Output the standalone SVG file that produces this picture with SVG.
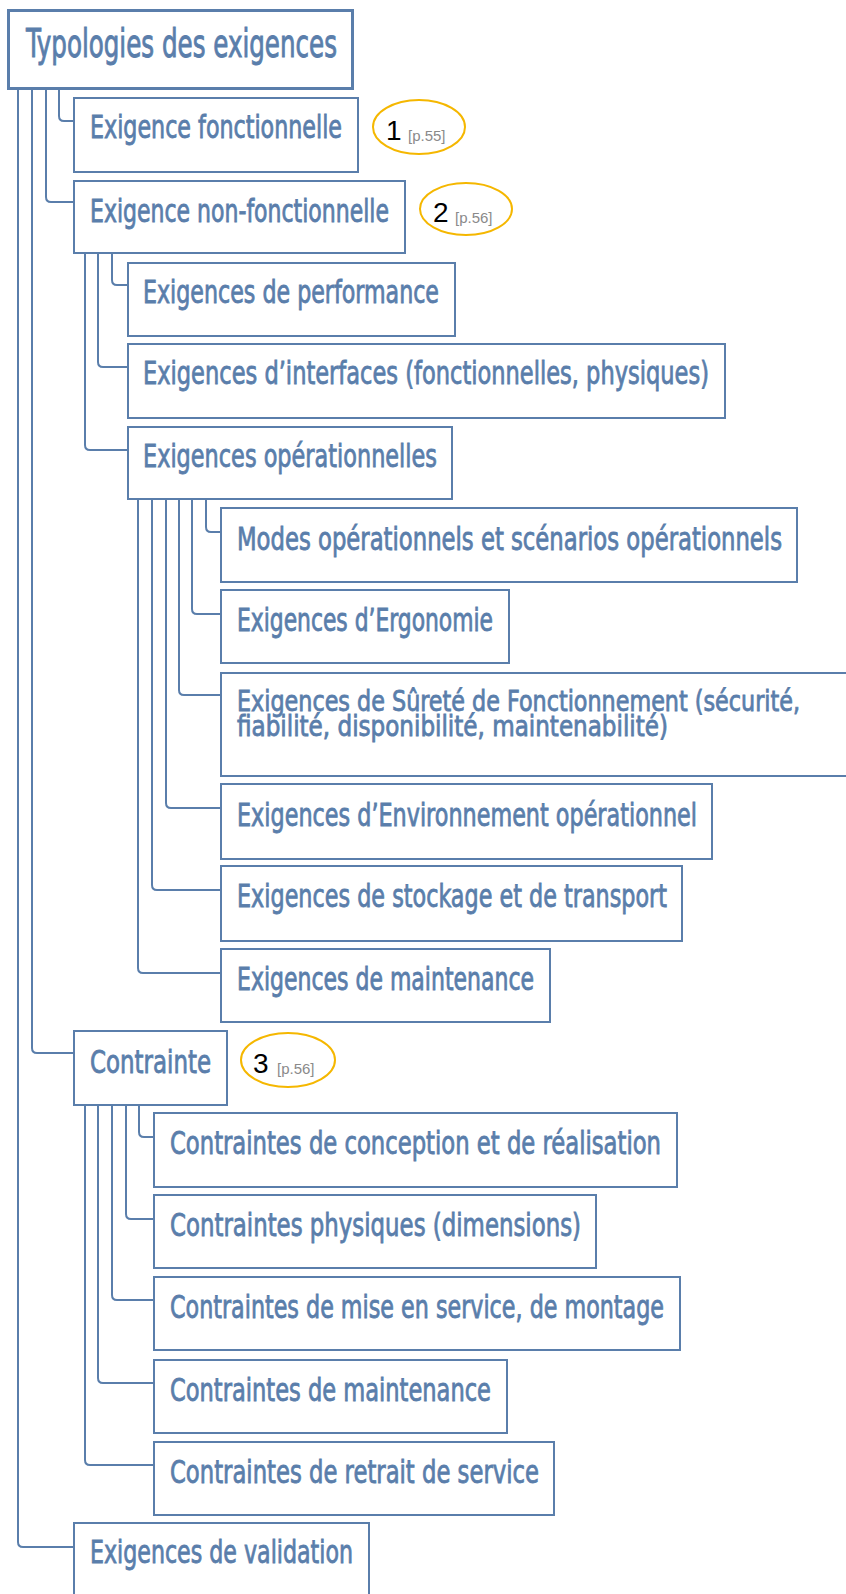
<svg xmlns="http://www.w3.org/2000/svg" width="846" height="1594" viewBox="0 0 846 1594">
  <style>
    .box { fill: #ffffff; stroke: #5a7eab; stroke-width: 2; }
    .root { stroke-width: 3; }
    .lbl { fill: #5a7eab; stroke: #5a7eab; stroke-width: 0.8; font-family: "Liberation Sans Narrow", "DejaVu Sans Condensed", "Liberation Sans", sans-serif; font-size: 32px; }
    .title { font-size: 39px; stroke-width: 0.9; }
    .tight { font-size: 29px; }
    .link { fill: none; stroke: #5a7eab; stroke-width: 2; }
    .ref { fill: none; stroke: #f5b700; stroke-width: 2; }
    .num { fill: #000000; font-family: "Liberation Sans", Arial, sans-serif; font-size: 28px; }
    .page { fill: #8a8a8a; font-family: "Liberation Sans", Arial, sans-serif; font-size: 15px; }
  </style>

  <!-- tree connectors: vertical trunk from parent bottom, rounded elbow into child's left edge -->
  <g id="connectors" class="link">
    <!-- root children -->
    <path d="M59,89 V116 Q59,121 64,121 H74"/>
    <path d="M46,89 V197 Q46,202 51,202 H74"/>
    <path d="M32,89 V1048 Q32,1053 37,1053 H74"/>
    <path d="M18,89 V1542 Q18,1547 23,1547 H74"/>
    <!-- non-fonctionnelle children -->
    <path d="M112,253 V280 Q112,285 117,285 H128"/>
    <path d="M98,253 V362 Q98,367 103,367 H128"/>
    <path d="M85,253 V445 Q85,450 90,450 H128"/>
    <!-- opérationnelles children -->
    <path d="M206,499 V527 Q206,532 211,532 H221"/>
    <path d="M192,499 V609 Q192,614 197,614 H221"/>
    <path d="M179,499 V690 Q179,695 184,695 H221"/>
    <path d="M166,499 V803 Q166,808 171,808 H221"/>
    <path d="M152,499 V885 Q152,890 157,890 H221"/>
    <path d="M138,499 V968 Q138,973 143,973 H221"/>
    <!-- contrainte children -->
    <path d="M139,1105 V1132 Q139,1137 144,1137 H154"/>
    <path d="M126,1105 V1214 Q126,1219 131,1219 H154"/>
    <path d="M112,1105 V1295 Q112,1300 117,1300 H154"/>
    <path d="M98,1105 V1378 Q98,1383 103,1383 H154"/>
    <path d="M85,1105 V1460 Q85,1465 90,1465 H154"/>
  </g>

  <g id="root">
    <rect class="box root" x="8.5" y="10.5" width="344" height="78"/>
    <text class="lbl title" x="26" y="57" textLength="311" lengthAdjust="spacingAndGlyphs">Typologies des exigences</text>
  </g>

  <g id="fonctionnelle">
    <rect class="box" x="74" y="98" width="284" height="74"/>
    <text class="lbl" x="90" y="138" textLength="252" lengthAdjust="spacingAndGlyphs">Exigence fonctionnelle</text>
  </g>
  <g id="ref1">
    <ellipse class="ref" cx="419" cy="127" rx="46" ry="27"/>
    <text class="num" x="386" y="140">1</text>
    <text class="page" x="408" y="141">[p.55]</text>
  </g>

  <g id="non-fonctionnelle">
    <rect class="box" x="74" y="181" width="331" height="72"/>
    <text class="lbl" x="90" y="222" textLength="299" lengthAdjust="spacingAndGlyphs">Exigence non-fonctionnelle</text>
  </g>
  <g id="ref2">
    <ellipse class="ref" cx="466" cy="209" rx="46" ry="26"/>
    <text class="num" x="433" y="222">2</text>
    <text class="page" x="455" y="223">[p.56]</text>
  </g>

  <g id="performance">
    <rect class="box" x="128" y="263" width="327" height="73"/>
    <text class="lbl" x="143" y="303" textLength="296" lengthAdjust="spacingAndGlyphs">Exigences de performance</text>
  </g>
  <g id="interfaces">
    <rect class="box" x="128" y="344" width="597" height="74"/>
    <text class="lbl" x="143" y="384" textLength="566" lengthAdjust="spacingAndGlyphs">Exigences d’interfaces (fonctionnelles, physiques)</text>
  </g>
  <g id="operationnelles">
    <rect class="box" x="128" y="427" width="324" height="72"/>
    <text class="lbl" x="143" y="467" textLength="294" lengthAdjust="spacingAndGlyphs">Exigences opérationnelles</text>
  </g>

  <g id="modes">
    <rect class="box" x="221" y="508" width="576" height="74"/>
    <text class="lbl" x="237" y="550" textLength="545" lengthAdjust="spacingAndGlyphs">Modes opérationnels et scénarios opérationnels</text>
  </g>
  <g id="ergonomie">
    <rect class="box" x="221" y="590" width="288" height="73"/>
    <text class="lbl" x="237" y="631" textLength="256" lengthAdjust="spacingAndGlyphs">Exigences d’Ergonomie</text>
  </g>
  <g id="surete">
    <rect class="box" x="221" y="673" width="640" height="103"/>
    <text class="lbl tight" x="237" y="711" textLength="563" lengthAdjust="spacingAndGlyphs">Exigences de Sûreté de Fonctionnement (sécurité,</text>
    <text class="lbl tight" x="237" y="736" textLength="431" lengthAdjust="spacingAndGlyphs">fiabilité, disponibilité, maintenabilité)</text>
  </g>
  <g id="environnement">
    <rect class="box" x="221" y="784" width="491" height="75"/>
    <text class="lbl" x="237" y="826" textLength="460" lengthAdjust="spacingAndGlyphs">Exigences d’Environnement opérationnel</text>
  </g>
  <g id="stockage">
    <rect class="box" x="221" y="866" width="461" height="75"/>
    <text class="lbl" x="237" y="907" textLength="430" lengthAdjust="spacingAndGlyphs">Exigences de stockage et de transport</text>
  </g>
  <g id="maintenance-exig">
    <rect class="box" x="221" y="949" width="329" height="73"/>
    <text class="lbl" x="237" y="990" textLength="297" lengthAdjust="spacingAndGlyphs">Exigences de maintenance</text>
  </g>

  <g id="contrainte">
    <rect class="box" x="74" y="1031" width="153" height="74"/>
    <text class="lbl" x="90" y="1073" textLength="121" lengthAdjust="spacingAndGlyphs">Contrainte</text>
  </g>
  <g id="ref3">
    <ellipse class="ref" cx="288" cy="1060" rx="47" ry="27"/>
    <text class="num" x="253" y="1073">3</text>
    <text class="page" x="277" y="1074">[p.56]</text>
  </g>

  <g id="conception">
    <rect class="box" x="154" y="1113" width="523" height="74"/>
    <text class="lbl" x="170" y="1154" textLength="491" lengthAdjust="spacingAndGlyphs">Contraintes de conception et de réalisation</text>
  </g>
  <g id="physiques">
    <rect class="box" x="154" y="1195" width="442" height="73"/>
    <text class="lbl" x="170" y="1236" textLength="411" lengthAdjust="spacingAndGlyphs">Contraintes physiques (dimensions)</text>
  </g>
  <g id="mise-en-service">
    <rect class="box" x="154" y="1277" width="526" height="73"/>
    <text class="lbl" x="170" y="1318" textLength="494" lengthAdjust="spacingAndGlyphs">Contraintes de mise en service, de montage</text>
  </g>
  <g id="maintenance-contr">
    <rect class="box" x="154" y="1360" width="353" height="73"/>
    <text class="lbl" x="170" y="1401" textLength="321" lengthAdjust="spacingAndGlyphs">Contraintes de maintenance</text>
  </g>
  <g id="retrait">
    <rect class="box" x="154" y="1442" width="400" height="73"/>
    <text class="lbl" x="170" y="1483" textLength="369" lengthAdjust="spacingAndGlyphs">Contraintes de retrait de service</text>
  </g>

  <g id="validation">
    <rect class="box" x="74" y="1523" width="295" height="80"/>
    <text class="lbl" x="90" y="1563" textLength="263" lengthAdjust="spacingAndGlyphs">Exigences de validation</text>
  </g>
</svg>
